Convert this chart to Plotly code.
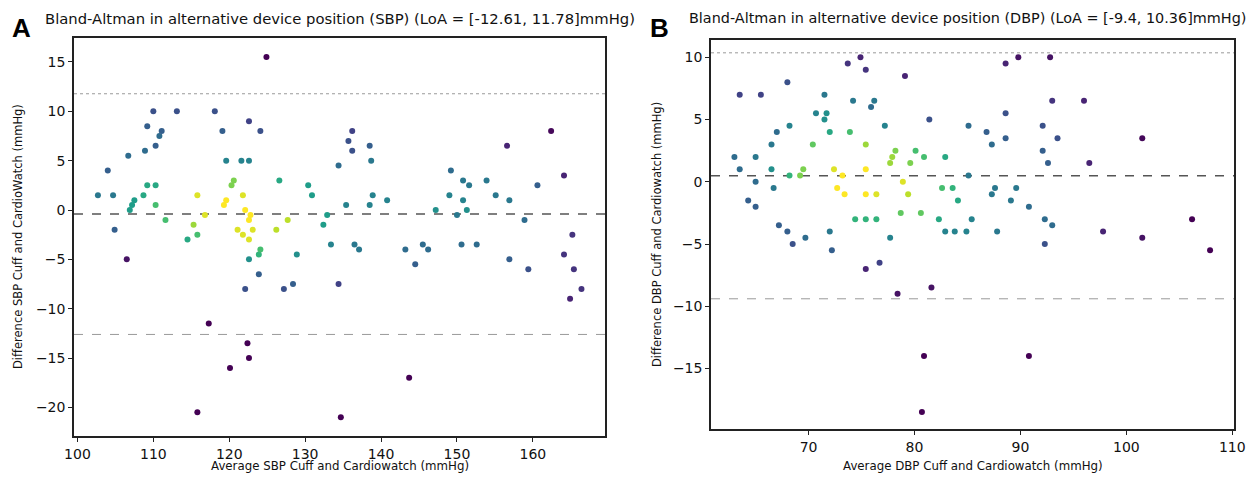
import plotly.graph_objects as go

# Panel A - systolic blood pressure
sbp_avg = [124.9, 102.7, 104.0, 104.7, 104.9, 106.7, 106.9, 107.2, 107.5, 108.7,
           108.9, 109.2, 109.2, 110.0, 110.3, 110.3, 110.3, 110.8, 111.1, 111.6,
           113.1, 115.3, 115.8, 116.8, 118.1, 119.1, 119.3, 119.6, 119.6, 120.3,
           120.6, 121.6, 121.8, 122.1, 122.6, 122.6, 122.8, 122.6, 124.1, 126.6,
           130.4, 130.9, 132.4, 132.9, 134.4, 135.4, 135.7, 136.2, 136.2, 138.5,
           138.7, 138.9, 138.5, 140.8, 147.2, 149.2, 149.0, 150.0, 150.8, 150.8,
           151.3, 151.6, 153.9, 155.1, 156.6, 156.9, 158.9, 160.6, 162.4, 164.1,
           106.5, 114.5, 115.8, 117.3, 115.8, 120.1, 121.1, 121.8, 122.6, 123.1,
           122.6, 123.9, 124.1, 123.9, 122.1, 122.4, 122.6, 126.2, 127.7, 127.2,
           128.4, 128.9, 133.4, 134.4, 134.7, 136.5, 137.1, 143.2, 143.7, 144.5,
           145.5, 146.2, 150.6, 152.6, 156.9, 159.4, 164.1, 165.2, 165.4, 164.9,
           166.4]
sbp_diff = [15.5, 1.5, 4.0, 1.5, -2.0, 5.5, 0.0, 0.5, 1.0, 1.5,
            6.0, 2.5, 8.5, 10.0, 6.5, 2.5, 0.5, 7.5, 8.0, -1.0,
            10.0, -1.5, 1.5, -0.5, 10.0, 8.0, 0.5, 1.0, 5.0, 2.5,
            3.0, 5.0, 1.5, 0.0, 9.0, 5.0, -0.5, -1.0, 8.0, 3.0,
            2.5, 1.5, -1.5, -0.5, 4.5, 0.5, 7.0, 6.0, 8.0, 6.5,
            5.0, 1.5, 0.5, 1.0, 0.0, 4.0, 1.5, -0.5, 3.0, 1.0,
            0.0, 2.5, 3.0, 1.5, 6.5, 1.0, -1.0, 2.5, 8.0, 3.5,
            -5.0, -3.0, -2.5, -11.5, -20.5, -16.0, -2.0, -2.5, -3.0, -2.0,
            -5.0, -4.5, -4.0, -6.5, -8.0, -13.5, -15.0, -2.0, -1.0, -8.0,
            -7.5, -4.5, -3.5, -7.5, -21.0, -3.5, -4.0, -4.0, -17.0, -5.5,
            -3.5, -4.0, -3.5, -3.5, -5.0, -6.0, -4.5, -2.5, -6.0, -9.0,
            -8.0]
sbp_density = [0.0, 0.4, 0.3, 0.4, 0.3, 0.35, 0.55, 0.55, 0.55, 0.6,
               0.35, 0.6, 0.3, 0.25, 0.3, 0.6, 0.7, 0.35, 0.3, 0.7,
               0.25, 0.85, 0.95, 0.95, 0.25, 0.3, 1.0, 1.0, 0.45, 0.8,
               0.8, 0.45, 0.95, 1.0, 0.2, 0.45, 1.0, 1.0, 0.25, 0.6,
               0.55, 0.55, 0.55, 0.55, 0.35, 0.45, 0.25, 0.25, 0.2, 0.3,
               0.4, 0.45, 0.45, 0.45, 0.5, 0.35, 0.45, 0.4, 0.4, 0.45,
               0.5, 0.4, 0.4, 0.4, 0.1, 0.4, 0.35, 0.3, 0.02, 0.1,
               0.05, 0.6, 0.7, 0.0, 0.0, 0.0, 0.95, 0.95, 0.95, 0.95,
               0.5, 0.65, 0.7, 0.3, 0.25, 0.0, 0.0, 0.9, 0.9, 0.25,
               0.3, 0.5, 0.45, 0.2, 0.0, 0.4, 0.4, 0.35, 0.0, 0.3,
               0.35, 0.35, 0.35, 0.35, 0.3, 0.25, 0.15, 0.15, 0.15, 0.1,
               0.15]
sbp_loa = [-12.61, 11.78]

# Panel B - diastolic blood pressure
dbp_avg = [63.0, 63.5, 63.5, 64.3, 65.0, 65.0, 65.0, 65.5, 66.5, 66.5,
           66.7, 67.0, 67.2, 68.0, 68.2, 68.2, 69.2, 69.5, 70.4, 70.7,
           71.5, 71.5, 71.7, 72.0, 72.4, 72.7, 73.2, 73.4, 73.7, 73.9,
           74.2, 74.4, 74.9, 75.4, 75.4, 75.4, 75.4, 75.4, 75.9, 76.2,
           76.4, 76.4, 77.2, 77.7, 77.9, 78.2, 78.7, 78.9, 79.1, 79.4,
           79.6, 80.1, 80.6, 80.9, 81.4, 82.3, 82.9, 82.6, 83.6, 84.1,
           85.1, 85.1, 85.4, 86.8, 87.3, 87.3, 87.6, 88.6, 88.6, 88.6,
           89.1, 89.6, 89.8, 90.8, 92.1, 92.1, 92.3, 92.6, 92.8, 93.0,
           93.0, 93.5, 96.0, 96.5, 101.5, 106.2, 82.9, 83.8, 84.9, 87.8,
           92.3, 97.8, 101.5, 107.9, 81.6, 90.8, 68.0, 68.5, 69.7, 72.0,
           72.2, 75.4, 76.7, 77.7, 78.4, 80.9, 80.7]
dbp_diff = [2.0, 7.0, 1.0, -1.5, 2.0, 0.0, -2.0, 7.0, 3.0, 1.0,
            -0.5, 4.0, -3.5, 8.0, 4.5, 0.5, 0.5, 1.0, 3.0, 5.5,
            7.0, 5.0, 5.5, 4.0, 1.0, -0.5, 0.5, -1.0, 9.5, 4.0,
            6.5, -3.0, 10.0, 9.0, 3.0, 1.0, -1.0, -3.0, 6.0, 6.5,
            -1.0, -3.0, 4.5, 1.5, 2.0, 2.5, -2.5, 0.0, 8.5, -1.0,
            1.5, 2.5, -2.5, 2.0, 5.0, -3.0, 2.0, -0.5, -0.5, -1.5,
            4.5, 0.5, -3.0, 4.0, 3.0, -1.0, -0.5, 9.5, 5.5, 3.5,
            -1.5, -0.5, 10.0, -2.0, 4.5, 2.5, -3.0, 1.5, 10.0, 6.5,
            -3.5, 3.5, 6.5, 1.5, 3.5, -3.0, -4.0, -4.0, -4.0, -4.0,
            -5.0, -4.0, -4.5, -5.5, -8.5, -14.0, -4.0, -5.0, -4.5, -4.0,
            -5.5, -7.0, -6.5, -4.5, -9.0, -14.0, -18.5]
dbp_density = [0.35, 0.2, 0.35, 0.3, 0.4, 0.35, 0.3, 0.2, 0.4, 0.5,
               0.4, 0.35, 0.3, 0.25, 0.45, 0.65, 0.8, 0.8, 0.75, 0.45,
               0.4, 0.5, 0.5, 0.6, 0.95, 1.0, 1.0, 1.0, 0.15, 0.7,
               0.4, 0.65, 0.1, 0.15, 0.85, 1.0, 1.0, 0.65, 0.35, 0.4,
               0.95, 0.65, 0.45, 0.85, 0.85, 0.8, 0.75, 0.95, 0.1, 0.9,
               0.8, 0.7, 0.75, 0.7, 0.25, 0.6, 0.6, 0.7, 0.65, 0.6,
               0.35, 0.4, 0.45, 0.3, 0.35, 0.4, 0.4, 0.1, 0.25, 0.3,
               0.4, 0.4, 0.05, 0.35, 0.25, 0.3, 0.35, 0.3, 0.05, 0.15,
               0.35, 0.25, 0.1, 0.1, 0.02, 0.0, 0.45, 0.45, 0.45, 0.4,
               0.25, 0.1, 0.05, 0.0, 0.05, 0.0, 0.3, 0.25, 0.35, 0.4,
               0.3, 0.1, 0.2, 0.45, 0.05, 0.0, 0.0]
dbp_loa = [-9.4, 10.36]

FONT = "DejaVu Sans"

fig = go.Figure()


def add_panel(fig, n, avg, diff, density, loa):
    """Scatter of the differences plus mean and limits of agreement."""
    xa = "x" if n == 1 else f"x{n}"
    ya = "y" if n == 1 else f"y{n}"
    fig.add_trace(
        go.Scatter(
            x=avg,
            y=diff,
            mode="markers",
            marker=dict(size=6, color=density, colorscale="Viridis",
                        cmin=0, cmax=1),
            xaxis=xa,
            yaxis=ya,
            showlegend=False,
        )
    )
    mean = (loa[0] + loa[1]) / 2
    # upper limit, mean, lower limit
    for val, col, dash, w in [(loa[1], "#9a9a9a", "dot", 1),
                              (mean, "#555555", "dash", 1.5),
                              (loa[0], "#9a9a9a", "dash", 1)]:
        fig.add_shape(type="line", x0=0, x1=1, y0=val, y1=val,
                      xref=f"{xa} domain", yref=ya, layer="below",
                      line=dict(color=col, dash=dash, width=w))


add_panel(fig, 1, sbp_avg, sbp_diff, sbp_density, sbp_loa)
add_panel(fig, 2, dbp_avg, dbp_diff, dbp_density, dbp_loa)

W, H = 1256, 478

axis_style = dict(
    automargin=False,
    showgrid=False,
    zeroline=False,
    showline=True,
    mirror=True,
    linecolor="#222222",
    linewidth=1.5,
    ticks="outside",
    ticklen=4,
    tickcolor="#222222",
    tickfont=dict(family=FONT, size=14, color="#111111"),
)

fig.update_layout(
    width=W,
    height=H,
    margin=dict(l=0, r=0, t=0, b=0),
    plot_bgcolor="white",
    paper_bgcolor="white",
    showlegend=False,
    xaxis=dict(domain=[74 / W, 605 / W], range=[99.55, 169.5],
               tickvals=[100, 110, 120, 130, 140, 150, 160], **axis_style),
    yaxis=dict(domain=[1 - 436 / H, 1 - 38 / H], range=[-22.9, 17.43],
               tickvals=[-20, -15, -10, -5, 0, 5, 10, 15], **axis_style),
    xaxis2=dict(domain=[711 / W, 1234 / W], range=[60.79, 110.16],
                anchor="y2", tickvals=[70, 80, 90, 100, 110], **axis_style),
    yaxis2=dict(domain=[1 - 429 / H, 1 - 40 / H], range=[-19.86, 11.39],
                anchor="x2", tickvals=[-15, -10, -5, 0, 5, 10], **axis_style),
)

# Titles, panel letters and axis labels
texts = [
    (339.5 / W, 1 - 18 / H, "Bland-Altman in alternative device position (SBP) (LoA = [-12.61, 11.78]mmHg)", 14.8, 0),
    (967 / W, 1 - 18 / H, "Bland-Altman in alternative device position (DBP) (LoA = [-9.4, 10.36]mmHg)", 14.4, 0),
    (339.5 / W, 1 - 466 / H, "Average SBP Cuff and Cardiowatch (mmHg)", 11.8, 0),
    (972.5 / W, 1 - 466 / H, "Average DBP Cuff and Cardiowatch (mmHg)", 11.8, 0),
    (18 / W, 1 - 237 / H, "Difference SBP Cuff and CardioWatch (mmHg)", 11.5, -90),
    (657 / W, 1 - 235 / H, "Difference DBP Cuff and Cardiowatch (mmHg)", 11.5, -90),
]
for x, y, t, s, a in texts:
    fig.add_annotation(x=x, y=y, xref="paper", yref="paper", text=t,
                       showarrow=False, textangle=a, xanchor="center",
                       yanchor="middle",
                       font=dict(family=FONT, size=s, color="#111111"))

for x, t in [(21, "A"), (659, "B")]:
    fig.add_annotation(x=x / W, y=1 - 28 / H, xref="paper", yref="paper",
                       text=f"<b>{t}</b>", showarrow=False, xanchor="center",
                       yanchor="middle",
                       font=dict(family="Liberation Sans", size=26, color="black"))

# drop the default page margin and the modebar
fig.write_html("out.html",
               config={"displayModeBar": False},
               post_script="document.body.style.margin = '0px';")
